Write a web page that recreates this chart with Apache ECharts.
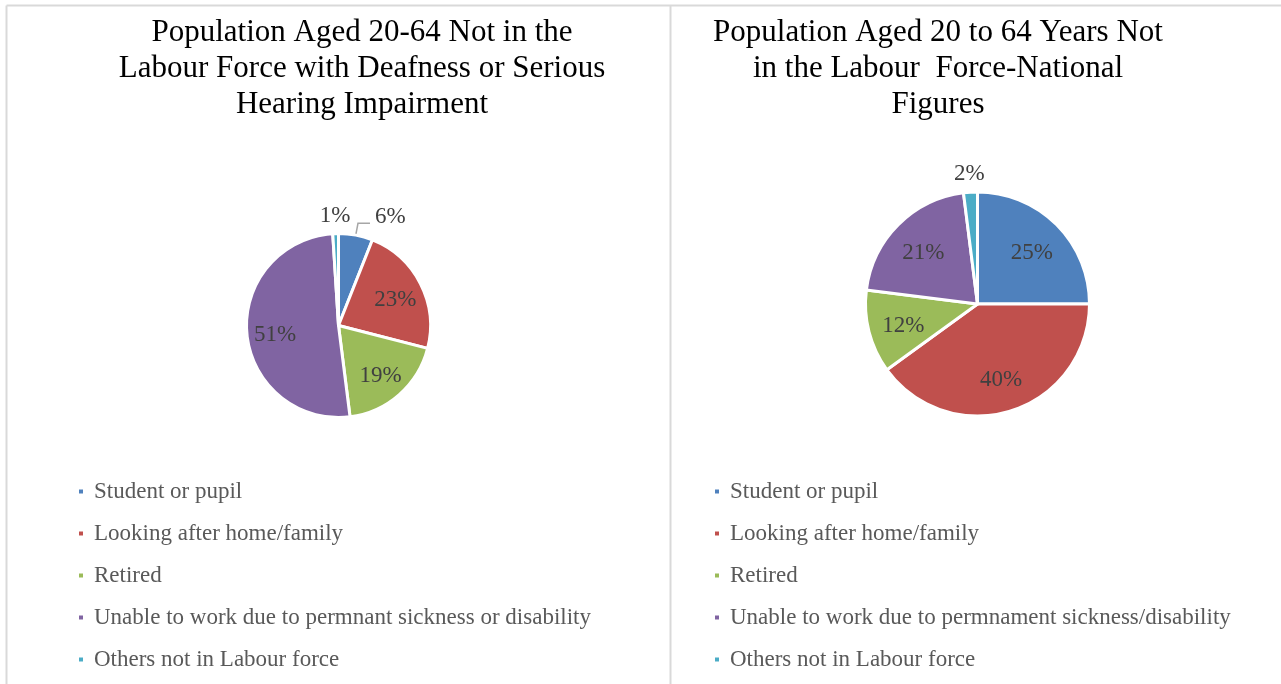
<!DOCTYPE html>
<html>
<head>
<meta charset="utf-8">
<script src="https://cdn.jsdelivr.net/npm/echarts@6/dist/echarts.min.js"></script>
<style>
  html, body { margin: 0; padding: 0; background: #ffffff; }
  #chart { width: 1281px; height: 684px; }
</style>
</head>
<body>
<div id="chart"></div>
<script>
// Titles (one entry per line)
const titleLeft = ['Population Aged 20-64 Not in the', 'Labour Force with Deafness or Serious', 'Hearing Impairment'];
const titleRight = ['Population Aged 20 to 64 Years Not', 'in the Labour  Force-National', 'Figures'];

// Categories and shares (%) for each pie
const categoriesLeft = [
  'Student or pupil',
  'Looking after home/family',
  'Retired',
  'Unable to work due to permnant sickness or disability',
  'Others not in Labour force'
];
const valuesLeft = [6, 23, 19, 51, 1];

const categoriesRight = [
  'Student or pupil',
  'Looking after home/family',
  'Retired',
  'Unable to work due to permnament sickness/disability',
  'Others not in Labour force'
];
const valuesRight = [25, 40, 12, 21, 2];

const palette = ['#4F81BD', '#C0504D', '#9BBB59', '#8064A2', '#4BACC6'];
const SERIF = '"Liberation Serif", "DejaVu Serif", serif';

// Pie geometry
const pies = [
  { center: [338.5, 325.5], radius: 92 },
  { center: [977.5, 304], radius: 112 }
];

// Slices whose labels sit outside the pie
const outsideLeft = { 0: 'line', 4: 'plain' };
const outsideRight = { 4: 'plain' };

function buildData(cats, vals, outside) {
  return cats.map((name, i) => {
    const item = { name: name, value: vals[i], itemStyle: { color: palette[i] } };
    const mode = outside[i];
    if (mode === 'line') {
      item.label = { position: 'outside' };
      item.labelLine = { show: true, length: 12, length2: 12,
        lineStyle: { color: '#A6A6A6', width: 1.5 } };
    } else if (mode === 'plain') {
      item.label = { position: 'outside' };
      item.labelLine = { show: true, length: 18, length2: 0,
        lineStyle: { color: 'rgba(0,0,0,0)', width: 0 } };
    }
    return item;
  });
}

function makeLabelLayout(seriesIdx, outside) {
  const geo = pies[seriesIdx];
  return function (params) {
    const mode = outside[params.dataIndex];
    const r = params.labelRect;
    if (mode === 'line') {
      return { dy: -6 };
    }
    if (mode === 'plain') {
      const pts = params.labelLinePoints;
      if (pts && pts.length) {
        const end = pts[1];
        return { x: end[0], y: end[1], align: 'center', verticalAlign: 'middle' };
      }
      return {};
    }
    // push inside labels further out from the centre
    const lx = r.x + r.width / 2;
    const ly = r.y + r.height / 2;
    const k = 1.3;
    return {
      x: geo.center[0] + (lx - geo.center[0]) * k,
      y: geo.center[1] + (ly - geo.center[1]) * k + 3,
      align: 'center',
      verticalAlign: 'middle'
    };
  };
}

function pieSeries(idx, cats, vals, outside) {
  return {
    type: 'pie',
    center: pies[idx].center,
    radius: pies[idx].radius,
    startAngle: 90,
    clockwise: true,
    silent: true,
    avoidLabelOverlap: false,
    itemStyle: { borderColor: '#ffffff', borderWidth: 3 },
    label: {
      show: true,
      position: 'inside',
      formatter: '{c}%',
      fontFamily: SERIF,
      fontSize: 23,
      color: '#404040'
    },
    labelLine: { show: false },
    labelLayout: makeLabelLayout(idx, outside),
    data: buildData(cats, vals, outside)
  };
}

function legendCfg(left, names) {
  return {
    orient: 'vertical',
    left: left,
    top: 475,
    data: names,
    icon: 'rect',
    itemWidth: 6,
    itemHeight: 6,
    itemGap: 19,
    selectedMode: false,
    textStyle: {
      fontFamily: SERIF,
      fontSize: 23,
      color: '#595959',
      padding: [0, 0, 0, 5]
    }
  };
}

function titleCfg(x, lines) {
  return {
    text: lines.join('\n'),
    left: x,
    top: 10,
    textAlign: 'center',
    textStyle: {
      fontFamily: SERIF,
      fontSize: 31,
      fontWeight: 'normal',
      lineHeight: 36,
      color: '#000000'
    }
  };
}

const frameColor = '#D9D9D9';

const chart = echarts.init(document.getElementById('chart'), null, { renderer: 'canvas' });
chart.setOption({
  backgroundColor: '#ffffff',
  animation: false,
  color: palette,
  title: [titleCfg(357, titleLeft), titleCfg(933, titleRight)],
  legend: [legendCfg(72, categoriesLeft), legendCfg(708, categoriesRight)],
  graphic: [
    { type: 'line', silent: true, shape: { x1: 6.5, y1: 5.5, x2: 1281, y2: 5.5 },
      style: { stroke: frameColor, lineWidth: 2 } },
    { type: 'line', silent: true, shape: { x1: 6.5, y1: 5.5, x2: 6.5, y2: 684 },
      style: { stroke: frameColor, lineWidth: 2 } },
    { type: 'line', silent: true, shape: { x1: 670.5, y1: 5.5, x2: 670.5, y2: 684 },
      style: { stroke: frameColor, lineWidth: 2 } }
  ],
  series: [
    pieSeries(0, categoriesLeft, valuesLeft, outsideLeft),
    pieSeries(1, categoriesRight, valuesRight, outsideRight)
  ]
});
</script>
</body>
</html>
